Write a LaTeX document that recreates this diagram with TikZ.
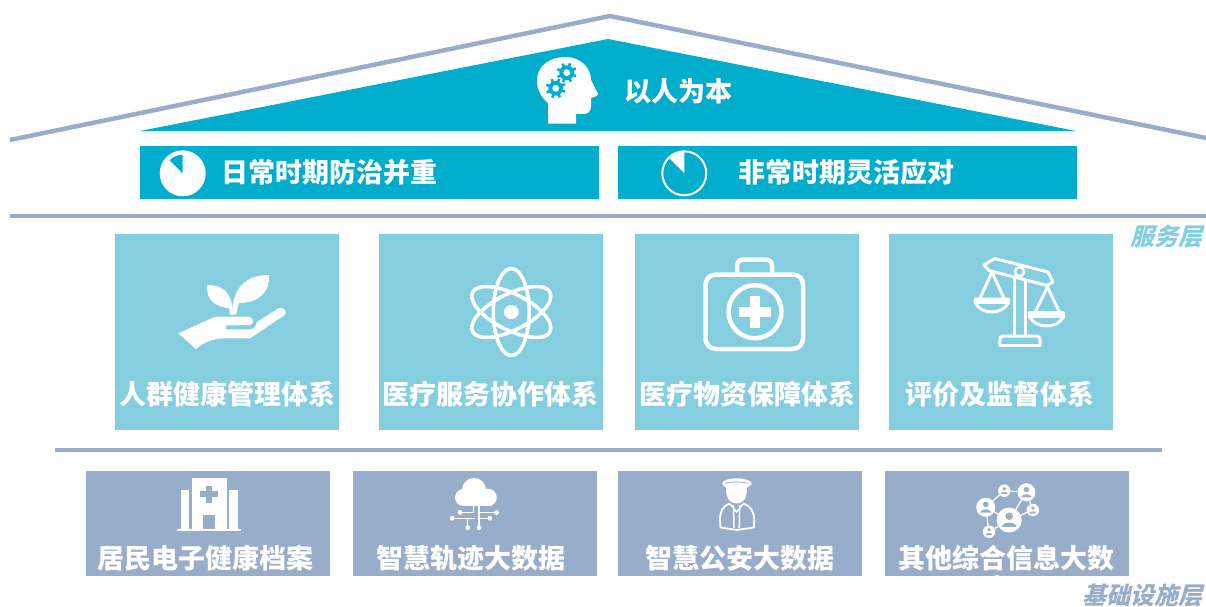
\documentclass[tikz,border=0pt]{standalone}
\usepackage{fontspec}
\newfontfamily\cjk{Noto Sans CJK SC}
\newfontfamily\cjkslant[FakeSlant=0.25]{Noto Sans CJK SC}
\definecolor{roofblue}{HTML}{00ADCC}
\definecolor{lightblue}{HTML}{85CEE0}
\definecolor{slate}{HTML}{98ADC9}

\begin{document}
\begin{tikzpicture}[x=1pt,y=-1pt]
    \tikzstyle{bar}=[fill=roofblue,minimum width=459pt,minimum height=53pt,inner sep=0pt,outer sep=0pt]
    \tikzstyle{servicebox}=[fill=lightblue,minimum width=224pt,minimum height=196pt,inner sep=0pt,outer sep=0pt]
    \tikzstyle{basebox}=[fill=slate,minimum width=244pt,minimum height=105pt,inner sep=0pt,outer sep=0pt]
    \tikzstyle{title}=[text=white,inner sep=0pt,anchor=base,font=\cjk\bfseries\fontsize{27}{32}\selectfont]
    \tikzstyle{layer}=[inner sep=0pt,anchor=base east,font=\cjkslant\bfseries\fontsize{24}{28}\selectfont]
    \tikzstyle{netdot}=[circle,fill=white,inner sep=0pt,outer sep=0pt]
    \tikzstyle{iconline}=[draw=white,line width=4.5pt,line join=round,line cap=round]
    \tikzstyle{thinline}=[draw=white,line width=3pt,line join=round]
    \useasboundingbox (0,0) rectangle (1206,607);

    % roof
    \coordinate (roof-l) at (10,140);
    \coordinate (roof-t) at (610,16);
    \coordinate (roof-r) at (1206,138);
    \draw[slate,line width=4.5pt,line join=miter] (roof-l) -- (roof-t) -- (roof-r);
    \fill[roofblue] (140,131) -- (608,39) -- (1076,131) -- cycle;

    % head with gears
    \fill[white] (548,123.5) -- (548,103) .. controls (541,97) and (537,90) .. (537,80)
        .. controls (537,66) and (550,57) .. (565,57) .. controls (581,57) and (591,68) .. (591,80)
        -- (598,94) .. controls (598,96) and (594,97) .. (591,98) -- (591,106)
        .. controls (591,111) and (588,114) .. (584,114) -- (576,114) -- (576,123.5) -- cycle;
    \foreach \gx/\gy in {566.7/72.7, 555.7/88.3} {
        \foreach \a in {0,45,...,315}
            \draw[roofblue,line width=2.6pt] (\gx,\gy) -- ++(\a+20:10);
        \fill[roofblue] (\gx,\gy) circle [radius=7.4];
        \fill[white] (\gx,\gy) circle [radius=3.4];
    }
    \node[title] (top-label) at (678,102) {以人为本};

    % two bars
    \node[bar] (bar-1) at (369.5,172.5) {};
    \node[bar] (bar-2) at (847.5,172.5) {};
    \fill[white] (182.7,173.3) circle [radius=23];
    \fill[roofblue] (182.7,173.3) -- ++(270:18.5) arc [start angle=270,end angle=225,radius=18.5] -- cycle;
    \draw[white,line width=2pt] (684.3,173.3) circle [radius=22];
    \fill[white] (684.3,173.3) -- ++(270:22) arc [start angle=270,end angle=225,radius=22] -- cycle;
    \node[title] (bar-label-1) at (329,182) {日常时期防治并重};
    \node[title] (bar-label-2) at (846,182) {非常时期灵活应对};

    % dividing lines
    \coordinate (div-1l) at (10,216);
    \coordinate (div-1r) at (1206,216);
    \coordinate (div-2l) at (55,450);
    \coordinate (div-2r) at (1162,450);
    \draw[slate,line width=4pt] (div-1l) -- (div-1r);
    \draw[slate,line width=4pt] (div-2l) -- (div-2r);

    % service layer
    \foreach \num/\x/\lx/\txt in {1/227/227/人群健康管理体系, 2/491/490/医疗服务协作体系, 3/747/747/医疗物资保障体系, 4/1001/1000/评价及监督体系} {
        \node[servicebox] (service-\num) at (\x,332) {};
        \node[title] (service-label-\num) at (\lx,404) {\txt};
    }
    \node[layer,text=lightblue] (layer-1) at (1203,245) {服务层};

    % hand and leaves
    \fill[white] (178.3,333.3) -- (210,319) .. controls (213,317.5) and (215,316.7) .. (218,316.7)
        -- (248,316.7) .. controls (254,316.7) and (255,324) .. (250,325) -- (226,325.5) -- (226,329.3) -- (250,329.3)
        .. controls (254,329.3) and (256,326) .. (257,322) -- (278,308.5)
        .. controls (283,305.5) and (289,312) .. (284,315.5) -- (250,338.3) -- (223,338.3)
        .. controls (214,338.5) and (204,342) .. (196,349) -- cycle;
    \fill[white] (207.3,285) .. controls (222,285) and (230,292) .. (232,305) -- (232,314.5) -- (229.5,314.5) -- (229.5,308.5)
        .. controls (214,306) and (206,300) .. (207.3,285) -- cycle;
    \fill[white] (269,275) .. controls (270,293) and (258,303) .. (239,303) -- (236,314.5) -- (232,314.5)
        .. controls (232,295) and (240,275) .. (269,275) -- cycle;

    % atom
    \foreach \a in {90,27,-27}
        \draw[white,line width=3.6pt,rotate around={\a:(511.3,312)}] (511.3,312) ellipse [x radius=43.5,y radius=18];
    \fill[white] (511.3,312) ellipse [x radius=7.5,y radius=7];

    % medical kit
    \draw[iconline] (705.5,286) .. controls (705.5,278) and (710,274.5) .. (717,274.5) -- (792,274.5)
        .. controls (799,274.5) and (803,278) .. (803,286) -- (803,337)
        .. controls (803,345) and (799,349) .. (792,349) -- (717,349)
        .. controls (710,349) and (705.5,345) .. (705.5,337) -- cycle;
    \draw[iconline] (737,273) -- (737,266) .. controls (737,261) and (740,259.5) .. (744,259.5) -- (765,259.5)
        .. controls (769,259.5) and (772,261) .. (772,266) -- (772,273);
    \draw[iconline] (755,311.7) circle [radius=26.5];
    \fill[white] (750,295.5) rectangle (760,327.5);
    \fill[white] (739,306.7) rectangle (771,316.7);

    % balance
    \draw[thinline] (984,265) -- (994.7,258.5) -- (1048,272) -- (1053,282) -- (1047,285.5) -- (989,270.5) -- cycle;
    \draw[thinline] (1014.5,277) -- (1014.5,336);
    \draw[thinline] (1025,280) -- (1025,336);
    \draw[thinline] (999.8,346) -- (999.8,340) .. controls (999.8,337.5) and (1001,336) .. (1003,336)
        -- (1036.5,336) .. controls (1038.5,336) and (1040,337.5) .. (1040,340) -- (1040,346);
    \fill[white] (998.5,344) rectangle (1041.2,347);
    \fill[lightblue,draw=white,line width=2.5pt] (1019.5,271.7) circle [radius=4.5];
    \draw[thinline] (980,298.3) -- (992,272) -- (1004,298.3);
    \draw[thinline] (975.2,299) -- (1008.3,299) -- (1008.3,303) .. controls (1002,315) and (981.5,315) .. (975.2,303) -- cycle;
    \fill[white] (974.3,298) rectangle (1009.2,304);
    \draw[thinline] (1035.3,311.7) -- (1047.5,287) -- (1059.3,311.7);
    \draw[thinline] (1029.5,312.5) -- (1063.5,312.5) -- (1063.5,317) .. controls (1057,329) and (1036,329) .. (1029.5,317) -- cycle;
    \fill[white] (1028.6,311.5) rectangle (1064.4,317.5);

    % base layer
    \foreach \num/\x/\lx/\txt in {1/208/205/居民电子健康档案, 2/475/471/智慧轨迹大数据, 3/740/740/智慧公安大数据, 4/1007/1006/其他综合信息大数} {
        \node[basebox] (base-\num) at (\x,523.5) {};
        \node[title] (base-label-\num) at (\lx,568) {\txt};
    }
    \node[title] (base-label-tail) at (1006,598) {据};
    \node[layer,text=slate] (layer-2) at (1203,604) {基础设施层};

    % hospital
    \fill[white] (191.5,478.4) rectangle (227,531);
    \fill[white] (180.7,490) rectangle (189,531);
    \fill[white] (229,490) rectangle (237.8,531);
    \fill[white] (177.3,528.5) rectangle (240.8,531);
    \fill[slate] (202.6,515) rectangle (214.5,529);
    \fill[slate] (206,485.7) rectangle (212,503.1);
    \fill[slate] (200.2,491.4) rectangle (217.8,497.4);

    % cloud with circuit
    \fill[white] (474,490) circle [radius=12];
    \fill[white] (463.5,497.5) circle [radius=8.5];
    \fill[white] (488,497.5) circle [radius=8.8];
    \fill[white] (463.5,495) rectangle (488,506);
    \draw[white,line width=1.3pt] (460,512.5) -- (473.5,512.5) -- (473.5,505)
        (475,518.3) -- (452.3,518.3) (467.8,518.3) -- (467.8,527.7)
        (479,505) -- (479,527.7) (479,512.5) -- (496.5,512.5) (479,518.3) -- (489.8,518.3);
    \foreach \dotx/\doty in {496.5/512.5, 452.3/518.3, 489.8/518.3, 467.8/527.7, 479/527.7, 460/512.5}
        \fill[white] (\dotx,\doty) circle [radius=2.4];

    % police officer
    \fill[white] (722,484) .. controls (722,480) and (730,478.3) .. (736.6,478.3)
        .. controls (743,478.3) and (751.8,480) .. (751.8,484) -- (746,488.5) -- (727,488.5) -- cycle;
    \draw[slate,line width=0.8pt] (725,483.3) .. controls (732,481.5) and (741,481.5) .. (748,483.3);
    \fill[white] (726,488) .. controls (726,499) and (730,503.5) .. (736.6,503.5) .. controls (743,503.5) and (747,499) .. (747,488) -- cycle;
    \draw[white,line width=1.8pt,line join=round] (730,503.5) .. controls (722,506) and (720,512) .. (720,520)
        -- (720.5,527.5) -- (736.6,530) -- (754,527.5) -- (754.2,520) .. controls (754.2,512) and (751,506) .. (743,503.5);
    \draw[white,line width=1.5pt] (733.5,505) -- (734,528) (739.7,505) -- (739.2,528) (730,504) -- (736.6,512) -- (743,504);

    % people network
    \node[netdot,minimum size=25pt] (net-1) at (1009.2,520) {};
    \node[netdot,minimum size=19pt] (net-2) at (985.7,507.3) {};
    \node[netdot,minimum size=18pt] (net-3) at (1026.4,492.3) {};
    \node[netdot,minimum size=12.5pt] (net-4) at (1004.3,490.7) {};
    \node[netdot,minimum size=12.5pt] (net-5) at (1032.8,510) {};
    \node[netdot,minimum size=12.5pt] (net-6) at (989,531.7) {};
    \foreach \from/\to in {2/4,4/3,3/1,3/5,5/1,2/1,2/6,6/1}
        \draw[white,line width=1.3pt] (net-\from) -- (net-\to);
    \foreach \x/\y/\r in {1009.2/520/12.5, 985.7/507.3/9.5, 1026.4/492.3/9, 1004.3/490.7/6.2, 1032.8/510/6.2, 989/531.7/6.2} {
        \fill[slate] (\x,{\y-0.3*\r}) circle [radius=0.3*\r];
        \fill[slate] ({\x-0.58*\r},{\y+0.55*\r}) .. controls ({\x-0.55*\r},{\y+0.1*\r}) and ({\x+0.55*\r},{\y+0.1*\r}) .. ({\x+0.58*\r},{\y+0.55*\r}) -- cycle;
    }
\end{tikzpicture}
\end{document}
